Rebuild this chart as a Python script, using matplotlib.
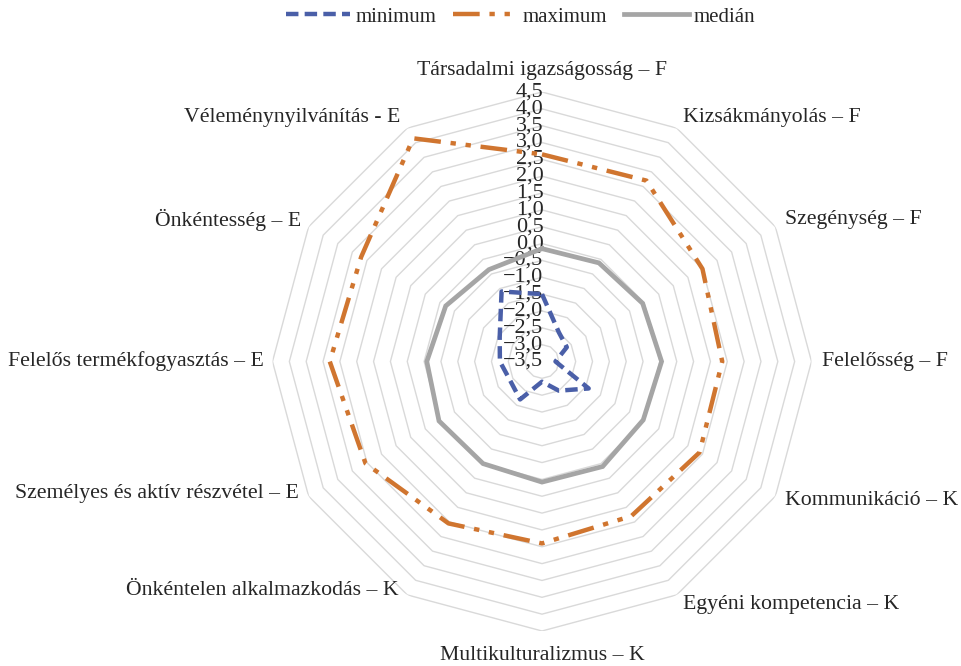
import numpy as np
import matplotlib
matplotlib.use("Agg")
import matplotlib.pyplot as plt
from matplotlib.lines import Line2D

plt.rcParams['font.family'] = ['Liberation Serif', 'DejaVu Serif']

# Categories (clockwise from the top)
categories = [
    "Társadalmi igazságosság – F",
    "Kizsákmányolás – F",
    "Szegénység – F",
    "Felelősség – F",
    "Kommunikáció – K",
    "Egyéni kompetencia – K",
    "Multikulturalizmus – K",
    "Önkéntelen alkalmazkodás – K",
    "Személyes és aktív részvétel – E",
    "Felelős termékfogyasztás – E",
    "Önkéntesség – E",
    "Véleménynyilvánítás - E",
]

# Series values
minimum = [-1.5, -2.5, -2.65, -3.1, -1.9, -2.5, -2.9, -2.2, -2.4, -2.25, -2.05, -1.1]
maximum = [2.65, 2.7, 2.0, 1.85, 1.9, 1.8, 1.9, 2.05, 2.55, 2.8, 2.7, 4.15]
median = [-0.15, -0.12, -0.05, 0.05, -0.03, 0.1, 0.08, 0.0, 0.03, -0.08, -0.2, -0.35]

# Radial axis ticks
r_min, r_max, r_step = -3.5, 4.5, 0.5
ticks = np.arange(r_min, r_max + r_step / 2, r_step)

# label offsets in pixels from the outer vertex (x, y, ha)
label_offsets = [
    (0, 22, 'center'), (6, 11, 'left'), (10, 7, 'left'), (10, 0, 'left'),
    (10, -4, 'left'), (6, -10, 'left'), (0, -24, 'center'), (-9, 4, 'right'),
    (-10, 3, 'right'), (-9, 0, 'right'), (-7, 7, 'right'), (-7, 11, 'right'),
]

n = len(categories)
angles = np.pi / 2 - np.arange(n) * 2 * np.pi / n
angles_closed = np.append(angles, angles[0])

def close(values):
    return np.append(values, values[0])

fig = plt.figure(figsize=(9.62, 6.66), dpi=100)
ax = fig.add_axes([272.5 / 962, 35 / 666, 539 / 962, 539 / 666], projection='polar')
ax.set_ylim(r_min, r_max)
ax.grid(False)
ax.spines['polar'].set_visible(False)
ax.set_xticks([])
ax.set_yticks([])

# polygon gridlines
for t in ticks[1:]:
    ax.plot(angles_closed, np.full(n + 1, t), color='#d9d9d9', lw=1.0, zorder=1)

# tick labels along the top spoke
for t in ticks:
    lbl = f"{t:.1f}".replace('.', ',').replace('-', '−')
    ax.annotate(lbl, xy=(np.pi / 2, t), xytext=(1, 0), textcoords='offset points',
                ha='right', va='center', fontsize=16, color='#262626', zorder=2)

# series
blue = '#4a5fa8'
orange = '#d0752f'
gray = '#a5a5a5'
ax.plot(angles_closed, close(median), color=gray, lw=3.4, zorder=3,
        solid_joinstyle='miter')
ax.plot(angles_closed, close(maximum), color=orange, lw=3.2, zorder=3,
        dashes=(6, 2.2, 1.2, 2.2, 1.2, 2.2))
ax.plot(angles_closed, close(minimum), color=blue, lw=3.2, zorder=3,
        dashes=(2.8, 1.4))

# category labels
for ang, name, (dx, dy, ha) in zip(angles, categories, label_offsets):
    ax.annotate(name, xy=(ang, r_max), xytext=(dx * 0.72, dy * 0.72),
                textcoords='offset points', ha=ha, va='center',
                fontsize=15.7, color='#262626', annotation_clip=False)

handles = [
    Line2D([], [], color=blue, lw=3.2, dashes=(2.8, 1.4)),
    Line2D([], [], color=orange, lw=3.2, dashes=(6, 2.2, 1.2, 2.2, 1.2, 2.2)),
    Line2D([], [], color=gray, lw=3.4),
]
fig.legend(handles, ["minimum", "maximum", "medián"], loc='center',
           bbox_to_anchor=(520.5 / 962, 1 - 17 / 666), ncol=3, frameon=False,
           fontsize=15, handlelength=3.1, handletextpad=0.25, columnspacing=0.8,
           labelcolor='#262626')

fig.savefig("out.png", dpi=100)
